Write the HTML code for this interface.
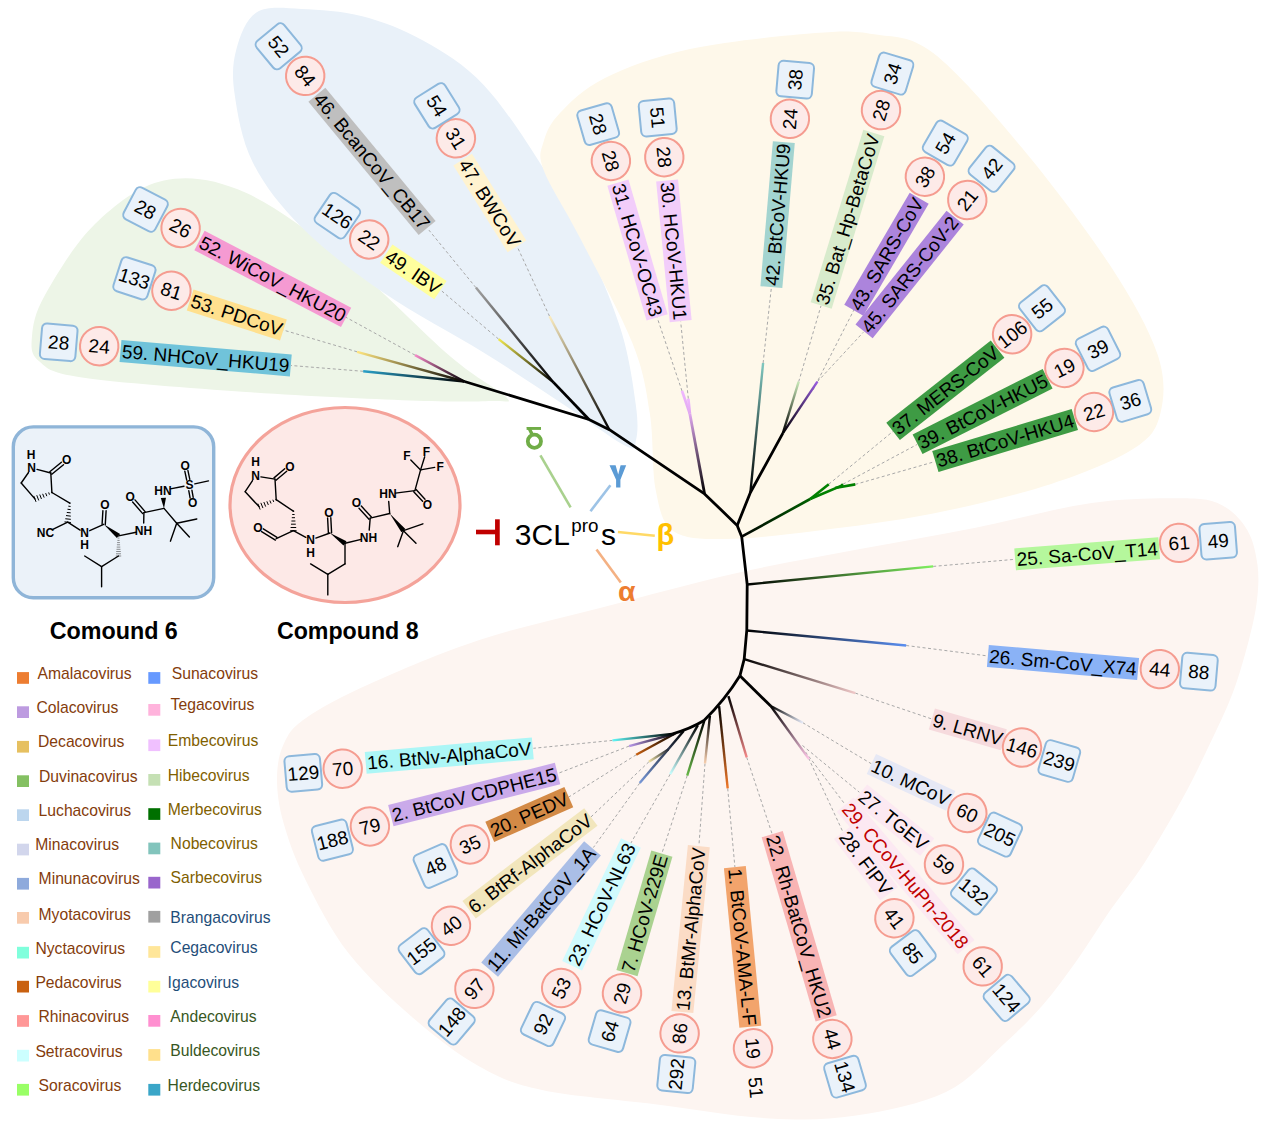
<!DOCTYPE html>
<html><head><meta charset="utf-8"><style>
html,body{margin:0;padding:0;background:#fff;}
svg{display:block;}
text{font-family:"Liberation Sans",sans-serif;}
.n{font-size:19px;}
</style></head><body>
<svg width="1269" height="1134" viewBox="0 0 1269 1134">
<defs><linearGradient id="g1" gradientUnits="userSpaceOnUse" x1="464.5" y1="381.5" x2="363.2" y2="371.3"><stop offset="0.00" stop-color="#000"/><stop offset="1" stop-color="#2aa0c8"/></linearGradient><linearGradient id="g2" gradientUnits="userSpaceOnUse" x1="464.5" y1="381.5" x2="357.1" y2="351.8"><stop offset="0.00" stop-color="#000"/><stop offset="1" stop-color="#ffe680"/></linearGradient><linearGradient id="g3" gradientUnits="userSpaceOnUse" x1="464.5" y1="381.5" x2="415.0" y2="355.1"><stop offset="0.00" stop-color="#000"/><stop offset="1" stop-color="#f58ac8"/></linearGradient><linearGradient id="g4" gradientUnits="userSpaceOnUse" x1="553.5" y1="382.4" x2="498.6" y2="339.1"><stop offset="0.00" stop-color="#000"/><stop offset="1" stop-color="#f0e850"/></linearGradient><linearGradient id="g5" gradientUnits="userSpaceOnUse" x1="553.5" y1="382.4" x2="475.9" y2="287.6"><stop offset="0.00" stop-color="#000"/><stop offset="1" stop-color="#a0a0a0"/></linearGradient><linearGradient id="g6" gradientUnits="userSpaceOnUse" x1="609.4" y1="429.7" x2="549.5" y2="316.2"><stop offset="0.00" stop-color="#000"/><stop offset="1" stop-color="#fbecc0"/></linearGradient><linearGradient id="g7" gradientUnits="userSpaceOnUse" x1="704.6" y1="493.9" x2="689.8" y2="413.5"><stop offset="0.00" stop-color="#000"/><stop offset="1" stop-color="#e0a8f0"/></linearGradient><linearGradient id="g8" gradientUnits="userSpaceOnUse" x1="689.8" y1="413.5" x2="682.0" y2="390.9"><stop offset="0.00" stop-color="#e0a8f0"/><stop offset="1" stop-color="#f0b8ff"/></linearGradient><linearGradient id="g9" gradientUnits="userSpaceOnUse" x1="689.8" y1="413.5" x2="688.3" y2="398.7"><stop offset="0.00" stop-color="#e0a8f0"/><stop offset="1" stop-color="#f0b8ff"/></linearGradient><linearGradient id="g10" gradientUnits="userSpaceOnUse" x1="750.4" y1="492.5" x2="763.1" y2="363.0"><stop offset="0.00" stop-color="#000"/><stop offset="1" stop-color="#80c8c0"/></linearGradient><linearGradient id="g11" gradientUnits="userSpaceOnUse" x1="782.9" y1="433.2" x2="798.7" y2="381.7"><stop offset="0.00" stop-color="#000"/><stop offset="1" stop-color="#c8e8b8"/></linearGradient><linearGradient id="g12" gradientUnits="userSpaceOnUse" x1="782.9" y1="433.2" x2="817.4" y2="381.7"><stop offset="0.00" stop-color="#000"/><stop offset="1" stop-color="#9a5ee0"/></linearGradient><linearGradient id="g13" gradientUnits="userSpaceOnUse" x1="741.7" y1="536.7" x2="810.2" y2="499.0"><stop offset="0.00" stop-color="#000"/><stop offset="1" stop-color="#006000"/></linearGradient><linearGradient id="g14" gradientUnits="userSpaceOnUse" x1="747.2" y1="584.5" x2="933.2" y2="566.4"><stop offset="0.00" stop-color="#000"/><stop offset="1" stop-color="#80f060"/></linearGradient><linearGradient id="g15" gradientUnits="userSpaceOnUse" x1="746.8" y1="630.5" x2="906.2" y2="645.5"><stop offset="0.00" stop-color="#000"/><stop offset="1" stop-color="#5a8ef0"/></linearGradient><linearGradient id="g16" gradientUnits="userSpaceOnUse" x1="744.2" y1="659.1" x2="855.3" y2="693.1"><stop offset="0.00" stop-color="#000"/><stop offset="1" stop-color="#f0c8c8"/></linearGradient><linearGradient id="g17" gradientUnits="userSpaceOnUse" x1="770.7" y1="706.0" x2="802.8" y2="722.7"><stop offset="0.00" stop-color="#000"/><stop offset="1" stop-color="#e8ecfa"/></linearGradient><linearGradient id="g18" gradientUnits="userSpaceOnUse" x1="770.7" y1="706.0" x2="809.0" y2="759.1"><stop offset="0.00" stop-color="#000"/><stop offset="1" stop-color="#ffc8e8"/></linearGradient><linearGradient id="g19" gradientUnits="userSpaceOnUse" x1="728.4" y1="696.2" x2="746.7" y2="757.3"><stop offset="0.00" stop-color="#000"/><stop offset="1" stop-color="#f48888"/></linearGradient><linearGradient id="g20" gradientUnits="userSpaceOnUse" x1="719.1" y1="706.1" x2="727.7" y2="788.4"><stop offset="0.00" stop-color="#000"/><stop offset="1" stop-color="#f07828"/></linearGradient><linearGradient id="g21" gradientUnits="userSpaceOnUse" x1="709.9" y1="716.0" x2="705.0" y2="763.5"><stop offset="0.00" stop-color="#000"/><stop offset="1" stop-color="#f8d0b0"/></linearGradient><linearGradient id="g22" gradientUnits="userSpaceOnUse" x1="704.3" y1="721.0" x2="687.2" y2="775.6"><stop offset="0.00" stop-color="#000"/><stop offset="1" stop-color="#68b848"/></linearGradient><linearGradient id="g23" gradientUnits="userSpaceOnUse" x1="697.9" y1="725.2" x2="670.2" y2="774.2"><stop offset="0.00" stop-color="#000"/><stop offset="1" stop-color="#c8ffff"/></linearGradient><linearGradient id="g24" gradientUnits="userSpaceOnUse" x1="683.7" y1="730.9" x2="639.7" y2="783.1"><stop offset="0.00" stop-color="#000"/><stop offset="1" stop-color="#7898d8"/></linearGradient><linearGradient id="g25" gradientUnits="userSpaceOnUse" x1="668.3" y1="749.5" x2="648.9" y2="761.8"><stop offset="0.00" stop-color="#202838"/><stop offset="1" stop-color="#f0e0a0"/></linearGradient><linearGradient id="g26" gradientUnits="userSpaceOnUse" x1="676.0" y1="733.0" x2="636.2" y2="754.8"><stop offset="0.00" stop-color="#000"/><stop offset="1" stop-color="#c86010"/></linearGradient><linearGradient id="g27" gradientUnits="userSpaceOnUse" x1="674.0" y1="734.0" x2="629.1" y2="746.1"><stop offset="0.00" stop-color="#000"/><stop offset="1" stop-color="#b898e8"/></linearGradient><linearGradient id="g28" gradientUnits="userSpaceOnUse" x1="672.0" y1="734.0" x2="612.5" y2="740.4"><stop offset="0.00" stop-color="#000"/><stop offset="1" stop-color="#60f8f8"/></linearGradient></defs>
<path d="M163.9,180.5 C189.1,175.3 215.2,179.2 245.9,192.8 C276.6,206.5 314.2,235.1 348.3,262.4 C382.4,289.7 424.4,334.3 450.7,356.7 C477.0,379.1 499.2,389.6 506.0,397.0 C512.8,404.4 507.7,400.4 491.7,401.0 C475.7,401.6 450.8,402.0 409.8,400.5 C368.8,399.0 300.5,395.8 245.9,392.0 C191.3,388.2 116.5,382.7 82.0,377.5 C47.5,372.3 47.2,367.9 38.9,361.0 C30.6,354.1 31.0,347.2 32.0,336.2 C33.0,325.2 34.5,313.7 45.0,295.0 C55.5,276.3 75.2,243.1 95.0,224.0 C114.8,204.9 138.8,185.7 163.9,180.5Z" fill="#edf5e7"/>
<path d="M256.8,12.2 C267.6,5.6 283.8,8.2 301.4,8.9 C319.0,9.6 341.9,10.9 362.2,16.2 C382.5,21.5 402.7,29.1 423.0,40.6 C443.3,52.1 463.6,63.6 483.9,85.2 C504.2,106.8 527.1,142.6 544.7,170.3 C562.3,198.0 576.5,224.4 589.3,251.4 C602.1,278.4 613.9,306.8 621.7,332.5 C629.5,358.2 633.5,387.6 635.9,405.5 C638.3,423.4 637.7,433.2 636.0,440.0 C634.3,446.8 637.6,451.8 625.8,446.0 C614.0,440.2 588.6,421.0 565.0,405.5 C541.4,390.0 514.3,371.7 483.9,352.8 C453.5,333.9 412.9,312.9 382.5,292.0 C352.1,271.1 323.0,248.7 301.4,227.1 C279.8,205.5 263.8,184.5 252.7,162.2 C241.5,139.9 237.2,112.2 234.5,93.3 C231.8,74.4 232.8,62.2 236.5,48.7 C240.2,35.2 246.0,18.8 256.8,12.2Z" fill="#e9f1f9"/>
<path d="M543.6,141.7 C546.3,132.2 549.8,123.6 560.0,113.0 C570.2,102.4 583.3,88.7 605.0,78.0 C626.7,67.3 655.0,56.5 690.0,49.0 C725.0,41.5 784.4,35.5 815.1,33.0 C845.8,30.5 854.4,30.9 874.1,34.2 C893.8,37.6 908.6,34.2 933.2,53.1 C957.8,72.0 992.2,112.2 1021.7,147.6 C1051.2,183.0 1087.6,231.2 1110.2,265.6 C1132.8,300.0 1149.0,329.5 1157.4,354.1 C1165.8,378.7 1164.3,397.4 1160.4,413.2 C1156.5,428.9 1152.0,436.8 1133.8,448.6 C1115.6,460.4 1084.6,473.2 1051.2,484.0 C1017.8,494.8 972.6,505.7 933.2,513.5 C893.9,521.3 849.5,526.8 815.1,531.0 C780.7,535.2 750.2,539.0 726.6,539.0 C703.0,539.0 685.3,539.4 673.5,531.2 C661.7,523.0 659.7,509.6 655.7,489.9 C651.8,470.2 653.7,437.8 649.8,413.2 C645.9,388.6 643.9,371.8 632.1,342.3 C620.3,312.8 593.8,264.8 579.0,236.1 C564.2,207.4 549.5,185.7 543.6,170.0 C537.7,154.3 540.9,151.2 543.6,141.7Z" fill="#fef8ea"/>
<path d="M305.3,718.4 C319.8,708.2 341.6,696.6 370.6,683.5 C399.6,670.4 441.2,652.6 479.4,640.0 C517.6,627.4 557.1,619.2 600.0,608.0 C642.9,596.8 693.7,582.8 737.0,573.0 C780.3,563.2 820.2,556.5 860.0,549.0 C899.8,541.5 937.0,535.4 975.6,527.7 C1014.2,520.0 1057.1,507.8 1091.7,502.9 C1126.3,498.0 1161.6,497.9 1183.3,498.3 C1205.0,498.7 1211.3,499.9 1222.0,505.2 C1232.7,510.5 1241.6,520.4 1247.5,530.4 C1253.4,540.4 1255.9,553.4 1257.5,565.0 C1259.1,576.6 1258.4,587.6 1257.0,600.0 C1255.6,612.4 1253.0,624.0 1249.0,639.4 C1245.0,654.8 1239.6,674.7 1233.0,692.3 C1226.4,709.9 1217.6,727.6 1209.2,745.2 C1200.8,762.8 1193.5,778.6 1182.8,798.1 C1172.1,817.6 1157.3,842.9 1145.0,862.0 C1132.7,881.1 1120.0,896.2 1108.7,912.6 C1097.4,929.0 1088.0,944.8 1077.0,960.2 C1066.0,975.6 1054.9,991.1 1042.6,1005.2 C1030.2,1019.3 1019.0,1030.4 1002.9,1044.9 C986.8,1059.4 970.5,1080.2 946.0,1092.0 C921.5,1103.8 885.4,1111.2 856.0,1115.6 C826.6,1120.0 803.3,1120.4 769.8,1118.5 C736.3,1116.6 692.9,1109.0 654.9,1104.2 C616.9,1099.5 571.2,1096.3 542.0,1090.0 C512.8,1083.7 500.7,1078.5 479.4,1066.6 C458.1,1054.7 435.9,1037.6 414.1,1018.8 C392.3,999.9 366.9,976.7 348.8,953.5 C330.7,930.3 316.2,901.2 305.3,879.4 C294.4,857.6 288.2,839.5 283.5,822.8 C278.8,806.1 277.0,792.3 277.0,779.3 C277.0,766.2 278.8,754.6 283.5,744.5 C288.2,734.4 290.8,728.6 305.3,718.4Z" fill="#fdf5f1"/>
<g stroke="#a8a8a8" stroke-width="1" stroke-dasharray="3,2.5" fill="none"><line x1="363.2" y1="371.3" x2="291.0" y2="365.5"/><line x1="357.1" y1="351.8" x2="282.5" y2="329.8"/><line x1="415.0" y1="355.1" x2="344.5" y2="316.5"/><line x1="498.6" y1="339.1" x2="441.9" y2="291.1"/><line x1="475.9" y1="287.6" x2="428.9" y2="230.1"/><line x1="549.5" y1="316.2" x2="517.5" y2="247.3"/><line x1="682.0" y1="390.9" x2="657.2" y2="317.7"/><line x1="688.3" y1="398.7" x2="680.7" y2="321.7"/><line x1="763.1" y1="363.0" x2="771.4" y2="287.3"/><line x1="798.7" y1="381.7" x2="821.0" y2="305.8"/><line x1="813.0" y1="390.0" x2="854.0" y2="309.8"/><line x1="817.4" y1="381.7" x2="863.3" y2="332.3"/><line x1="828.8" y1="484.2" x2="893.1" y2="431.3"/><line x1="843.0" y1="484.2" x2="916.9" y2="444.6"/><line x1="855.3" y1="484.4" x2="934.6" y2="461.7"/><line x1="933.2" y1="566.4" x2="1015.1" y2="559.3"/><line x1="906.2" y1="645.5" x2="987.4" y2="655.9"/><line x1="855.3" y1="693.1" x2="933.4" y2="719.5"/><line x1="802.8" y1="722.7" x2="872.6" y2="764.5"/><line x1="802.5" y1="745.5" x2="859.3" y2="792.2"/><line x1="805.5" y1="752.0" x2="844.8" y2="804.1"/><line x1="808.5" y1="758.0" x2="843.5" y2="833.2"/><line x1="746.7" y1="757.3" x2="772.2" y2="834.2"/><line x1="727.7" y1="788.4" x2="734.9" y2="867.0"/><line x1="705.0" y1="763.5" x2="698.9" y2="845.8"/><line x1="687.2" y1="775.6" x2="661.7" y2="854.0"/><line x1="670.2" y1="774.2" x2="630.3" y2="844.1"/><line x1="639.7" y1="783.1" x2="593.4" y2="847.5"/><line x1="648.9" y1="761.8" x2="590.8" y2="817.1"/><line x1="636.2" y1="754.8" x2="568.3" y2="797.3"/><line x1="629.1" y1="746.1" x2="557.7" y2="773.5"/><line x1="612.5" y1="740.4" x2="533.4" y2="748.3"/></g>
<polyline points="464.5,381.5 589.0,419.5 609.4,429.7 704.6,493.9 737.2,525.4 741.7,536.7 747.2,584.5 746.8,630.0 744.2,659.1 739.9,675.8" fill="none" stroke="#000" stroke-width="2.8" stroke-linejoin="round"/>
<line x1="464.5" y1="381.5" x2="363.2" y2="371.3" stroke="url(#g1)" stroke-width="2.4" stroke-linecap="butt"/>
<line x1="464.5" y1="381.5" x2="357.1" y2="351.8" stroke="url(#g2)" stroke-width="2.4" stroke-linecap="butt"/>
<line x1="464.5" y1="381.5" x2="415.0" y2="355.1" stroke="url(#g3)" stroke-width="2.4" stroke-linecap="butt"/>
<polyline points="589.0,419.5 553.5,382.4" fill="none" stroke="#000" stroke-width="2.8" stroke-linejoin="round"/>
<line x1="553.5" y1="382.4" x2="498.6" y2="339.1" stroke="url(#g4)" stroke-width="2.4" stroke-linecap="butt"/>
<line x1="553.5" y1="382.4" x2="475.9" y2="287.6" stroke="url(#g5)" stroke-width="2.4" stroke-linecap="butt"/>
<line x1="609.4" y1="429.7" x2="549.5" y2="316.2" stroke="url(#g6)" stroke-width="2.4" stroke-linecap="butt"/>
<line x1="704.6" y1="493.9" x2="689.8" y2="413.5" stroke="url(#g7)" stroke-width="2.8" stroke-linecap="butt"/>
<line x1="689.8" y1="413.5" x2="682.0" y2="390.9" stroke="url(#g8)" stroke-width="2.8" stroke-linecap="butt"/>
<line x1="689.8" y1="413.5" x2="688.3" y2="398.7" stroke="url(#g9)" stroke-width="2.8" stroke-linecap="butt"/>
<polyline points="737.2,525.4 750.4,492.5 782.9,433.2" fill="none" stroke="#000" stroke-width="2.8" stroke-linejoin="round"/>
<line x1="750.4" y1="492.5" x2="763.1" y2="363.0" stroke="url(#g10)" stroke-width="2.4" stroke-linecap="butt"/>
<line x1="782.9" y1="433.2" x2="798.7" y2="381.7" stroke="url(#g11)" stroke-width="2.4" stroke-linecap="butt"/>
<line x1="782.9" y1="433.2" x2="817.4" y2="381.7" stroke="url(#g12)" stroke-width="2.4" stroke-linecap="butt"/>
<line x1="741.7" y1="536.7" x2="810.2" y2="499.0" stroke="url(#g13)" stroke-width="2.6" stroke-linecap="butt"/>
<polyline points="810.2,499.0 828.8,484.2" stroke="#008000" stroke-width="2.6" fill="none"/>
<polyline points="810.2,499.0 841.0,486.0 843.0,484.2" stroke="#008000" stroke-width="2.6" fill="none"/>
<polyline points="835.0,488.0 855.3,484.4" stroke="#008000" stroke-width="2.6" fill="none"/>
<line x1="747.2" y1="584.5" x2="933.2" y2="566.4" stroke="url(#g14)" stroke-width="2.4" stroke-linecap="butt"/>
<line x1="746.8" y1="630.5" x2="906.2" y2="645.5" stroke="url(#g15)" stroke-width="2.4" stroke-linecap="butt"/>
<line x1="744.2" y1="659.1" x2="855.3" y2="693.1" stroke="url(#g16)" stroke-width="2.4" stroke-linecap="butt"/>
<polyline points="739.9,675.8 770.7,706.0" fill="none" stroke="#000" stroke-width="2.8" stroke-linejoin="round"/>
<line x1="770.7" y1="706.0" x2="802.8" y2="722.7" stroke="url(#g17)" stroke-width="2.4" stroke-linecap="butt"/>
<line x1="770.7" y1="706.0" x2="809.0" y2="759.1" stroke="url(#g18)" stroke-width="2.4" stroke-linecap="butt"/>
<path d="M739.9,675.8 Q725,700 704,720.5 Q690,729 672,734" fill="none" stroke="#000" stroke-width="2.8"/>
<line x1="728.4" y1="696.2" x2="746.7" y2="757.3" stroke="url(#g19)" stroke-width="2.4" stroke-linecap="butt"/>
<line x1="719.1" y1="706.1" x2="727.7" y2="788.4" stroke="url(#g20)" stroke-width="2.4" stroke-linecap="butt"/>
<line x1="709.9" y1="716.0" x2="705.0" y2="763.5" stroke="url(#g21)" stroke-width="2.4" stroke-linecap="butt"/>
<line x1="704.3" y1="721.0" x2="687.2" y2="775.6" stroke="url(#g22)" stroke-width="2.4" stroke-linecap="butt"/>
<line x1="697.9" y1="725.2" x2="670.2" y2="774.2" stroke="url(#g23)" stroke-width="2.4" stroke-linecap="butt"/>
<line x1="683.7" y1="730.9" x2="639.7" y2="783.1" stroke="url(#g24)" stroke-width="2.4" stroke-linecap="butt"/>
<line x1="668.3" y1="749.5" x2="648.9" y2="761.8" stroke="url(#g25)" stroke-width="2.4" stroke-linecap="butt"/>
<line x1="676.0" y1="733.0" x2="636.2" y2="754.8" stroke="url(#g26)" stroke-width="2.4" stroke-linecap="butt"/>
<line x1="674.0" y1="734.0" x2="629.1" y2="746.1" stroke="url(#g27)" stroke-width="2.4" stroke-linecap="butt"/>
<line x1="672.0" y1="734.0" x2="612.5" y2="740.4" stroke="url(#g28)" stroke-width="2.4" stroke-linecap="butt"/>
<g font-family="Liberation Sans, sans-serif" font-size="19" text-anchor="middle"><g transform="translate(205.7,358.2) rotate(4.86)"><rect x="-85.5" y="-11" width="170.9" height="22" fill="#70c3da"/><text x="0" y="6.8" fill="#000">59. NHCoV_HKU19</text></g><g transform="translate(99.2,346.2) rotate(4.86)"><circle r="19.2" fill="#fdeae8" stroke="#f59c90" stroke-width="2"/><text class="n" x="0" y="6.8">24</text></g><g transform="translate(58.7,342.3) rotate(4.86)"><rect x="-17.8" y="-17.8" width="35.6" height="35.6" rx="5" fill="#eaf2fa" stroke="#8db8dc" stroke-width="2"/><text class="n" x="0" y="6.8">28</text></g><g transform="translate(236.8,315.0) rotate(17.93)"><rect x="-49.0" y="-11" width="98.0" height="22" fill="#ffe08e"/><text x="0" y="6.8" fill="#000">53. PDCoV</text></g><g transform="translate(171.4,290.7) rotate(17.93)"><circle r="19.2" fill="#fdeae8" stroke="#f59c90" stroke-width="2"/><text class="n" x="0" y="6.8">81</text></g><g transform="translate(134.4,278.3) rotate(17.93)"><rect x="-17.8" y="-17.8" width="35.6" height="35.6" rx="5" fill="#eaf2fa" stroke="#8db8dc" stroke-width="2"/><text class="n" x="0" y="6.8">133</text></g><g transform="translate(272.8,278.9) rotate(27.69)"><rect x="-82.8" y="-11" width="165.6" height="22" fill="#f59ad2"/><text x="0" y="6.8" fill="#000">52. WiCoV_HKU20</text></g><g transform="translate(180.6,228.0) rotate(27.69)"><circle r="19.2" fill="#fdeae8" stroke="#f59c90" stroke-width="2"/><text class="n" x="0" y="6.8">26</text></g><g transform="translate(145.5,209.5) rotate(27.69)"><rect x="-17.8" y="-17.8" width="35.6" height="35.6" rx="5" fill="#eaf2fa" stroke="#8db8dc" stroke-width="2"/><text class="n" x="0" y="6.8">28</text></g><g transform="translate(413.4,271.9) rotate(34.01)"><rect x="-32.7" y="-11" width="65.3" height="22" fill="#ffff9e"/><text x="0" y="6.8" fill="#000">49. IBV</text></g><g transform="translate(369.2,239.5) rotate(34.01)"><circle r="19.2" fill="#fdeae8" stroke="#f59c90" stroke-width="2"/><text class="n" x="0" y="6.8">22</text></g><g transform="translate(337.4,215.7) rotate(34.01)"><rect x="-17.8" y="-17.8" width="35.6" height="35.6" rx="5" fill="#eaf2fa" stroke="#8db8dc" stroke-width="2"/><text class="n" x="0" y="6.8">126</text></g><g transform="translate(372.0,161.3) rotate(50.41)"><rect x="-86.5" y="-11" width="173.0" height="22" fill="#bfbfbf"/><text x="0" y="6.8" fill="#000">46. BcanCoV_CB17</text></g><g transform="translate(305.2,75.9) rotate(50.41)"><circle r="19.2" fill="#fdeae8" stroke="#f59c90" stroke-width="2"/><text class="n" x="0" y="6.8">84</text></g><g transform="translate(278.7,46.3) rotate(50.41)"><rect x="-17.8" y="-17.8" width="35.6" height="35.6" rx="5" fill="#eaf2fa" stroke="#8db8dc" stroke-width="2"/><text class="n" x="0" y="6.8">52</text></g><g transform="translate(489.8,203.0) rotate(57.94)"><rect x="-51.1" y="-11" width="102.3" height="22" fill="#fff3d0"/><text x="0" y="6.8" fill="#000">47. BWCoV</text></g><g transform="translate(455.9,138.3) rotate(57.94)"><circle r="19.2" fill="#fdeae8" stroke="#f59c90" stroke-width="2"/><text class="n" x="0" y="6.8">31</text></g><g transform="translate(436.9,105.8) rotate(57.94)"><rect x="-17.8" y="-17.8" width="35.6" height="35.6" rx="5" fill="#eaf2fa" stroke="#8db8dc" stroke-width="2"/><text class="n" x="0" y="6.8">54</text></g><g transform="translate(637.5,250.0) rotate(73.78)"><rect x="-70.1" y="-11" width="140.3" height="22" fill="#f2cdfa"/><text x="0" y="6.8" fill="#000">31. HCoV-OC43</text></g><g transform="translate(610.9,160.9) rotate(73.78)"><circle r="19.2" fill="#fdeae8" stroke="#f59c90" stroke-width="2"/><text class="n" x="0" y="6.8">28</text></g><g transform="translate(598.2,124.1) rotate(73.78)"><rect x="-17.8" y="-17.8" width="35.6" height="35.6" rx="5" fill="#eaf2fa" stroke="#8db8dc" stroke-width="2"/><text class="n" x="0" y="6.8">28</text></g><g transform="translate(673.9,250.9) rotate(84.47)"><rect x="-70.7" y="-11" width="141.3" height="22" fill="#f2cdfa"/><text x="0" y="6.8" fill="#000">30. HCoV-HKU1</text></g><g transform="translate(664.3,157.2) rotate(84.47)"><circle r="19.2" fill="#fdeae8" stroke="#f59c90" stroke-width="2"/><text class="n" x="0" y="6.8">28</text></g><g transform="translate(657.7,117.5) rotate(84.47)"><rect x="-17.8" y="-17.8" width="35.6" height="35.6" rx="5" fill="#eaf2fa" stroke="#8db8dc" stroke-width="2"/><text class="n" x="0" y="6.8">51</text></g><g transform="translate(777.6,214.6) rotate(-85.09)"><rect x="-72.8" y="-11" width="145.6" height="22" fill="#a3d4d0"/><text x="0" y="6.8" fill="#000">42. BtCoV-HKU9</text></g><g transform="translate(789.9,118.8) rotate(-85.09)"><circle r="19.2" fill="#fdeae8" stroke="#f59c90" stroke-width="2"/><text class="n" x="0" y="6.8">24</text></g><g transform="translate(795.2,79.7) rotate(-85.09)"><rect x="-17.8" y="-17.8" width="35.6" height="35.6" rx="5" fill="#eaf2fa" stroke="#8db8dc" stroke-width="2"/><text class="n" x="0" y="6.8">38</text></g><g transform="translate(847.5,219.2) rotate(-73.02)"><rect x="-90.2" y="-11" width="180.4" height="22" fill="#d8ebcc"/><text x="0" y="6.8" fill="#000">35. Bat_Hp-BetaCoV</text></g><g transform="translate(881.0,110.1) rotate(-73.02)"><circle r="19.2" fill="#fdeae8" stroke="#f59c90" stroke-width="2"/><text class="n" x="0" y="6.8">28</text></g><g transform="translate(892.4,73.6) rotate(-73.02)"><rect x="-17.8" y="-17.8" width="35.6" height="35.6" rx="5" fill="#eaf2fa" stroke="#8db8dc" stroke-width="2"/><text class="n" x="0" y="6.8">34</text></g><g transform="translate(886.5,254.2) rotate(-59.71)"><rect x="-64.9" y="-11" width="129.7" height="22" fill="#ac84dc"/><text x="0" y="6.8" fill="#000">43. SARS-CoV</text></g><g transform="translate(924.9,176.7) rotate(-59.71)"><circle r="19.2" fill="#fdeae8" stroke="#f59c90" stroke-width="2"/><text class="n" x="0" y="6.8">38</text></g><g transform="translate(945.3,143.1) rotate(-59.71)"><rect x="-17.8" y="-17.8" width="35.6" height="35.6" rx="5" fill="#eaf2fa" stroke="#8db8dc" stroke-width="2"/><text class="n" x="0" y="6.8">54</text></g><g transform="translate(909.6,274.5) rotate(-51.30)"><rect x="-72.8" y="-11" width="145.6" height="22" fill="#ac84dc"/><text x="0" y="6.8" fill="#000">45. SARS-CoV-2</text></g><g transform="translate(967.3,200.0) rotate(-51.30)"><circle r="19.2" fill="#fdeae8" stroke="#f59c90" stroke-width="2"/><text class="n" x="0" y="6.8">21</text></g><g transform="translate(991.6,168.8) rotate(-51.30)"><rect x="-17.8" y="-17.8" width="35.6" height="35.6" rx="5" fill="#eaf2fa" stroke="#8db8dc" stroke-width="2"/><text class="n" x="0" y="6.8">42</text></g><g transform="translate(945.3,390.3) rotate(-38.15)"><rect x="-66.4" y="-11" width="132.9" height="22" fill="#3e9b44"/><text x="0" y="6.8" fill="#000">37. MERS-CoV</text></g><g transform="translate(1012.1,334.3) rotate(-38.15)"><circle r="19.2" fill="#fdeae8" stroke="#f59c90" stroke-width="2"/><text class="n" x="0" y="6.8">106</text></g><g transform="translate(1042.0,308.3) rotate(-38.15)"><rect x="-17.8" y="-17.8" width="35.6" height="35.6" rx="5" fill="#eaf2fa" stroke="#8db8dc" stroke-width="2"/><text class="n" x="0" y="6.8">55</text></g><g transform="translate(982.6,411.5) rotate(-26.74)"><rect x="-72.8" y="-11" width="145.6" height="22" fill="#3e9b44"/><text x="0" y="6.8" fill="#000">39. BtCoV-HKU5</text></g><g transform="translate(1064.4,367.9) rotate(-26.74)"><circle r="19.2" fill="#fdeae8" stroke="#f59c90" stroke-width="2"/><text class="n" x="0" y="6.8">19</text></g><g transform="translate(1098.0,348.8) rotate(-26.74)"><rect x="-17.8" y="-17.8" width="35.6" height="35.6" rx="5" fill="#eaf2fa" stroke="#8db8dc" stroke-width="2"/><text class="n" x="0" y="6.8">39</text></g><g transform="translate(1005.1,440.5) rotate(-16.70)"><rect x="-72.8" y="-11" width="145.6" height="22" fill="#3e9b44"/><text x="0" y="6.8" fill="#000">38. BtCoV-HKU4</text></g><g transform="translate(1094.0,412.0) rotate(-16.70)"><circle r="19.2" fill="#fdeae8" stroke="#f59c90" stroke-width="2"/><text class="n" x="0" y="6.8">22</text></g><g transform="translate(1130.3,400.9) rotate(-16.70)"><rect x="-17.8" y="-17.8" width="35.6" height="35.6" rx="5" fill="#eaf2fa" stroke="#8db8dc" stroke-width="2"/><text class="n" x="0" y="6.8">36</text></g><g transform="translate(1087.2,553.8) rotate(-4.40)"><rect x="-72.3" y="-11" width="144.5" height="22" fill="#b5f79c"/><text x="0" y="6.8" fill="#000">25. Sa-CoV_T14</text></g><g transform="translate(1179.1,542.9) rotate(-4.40)"><circle r="19.2" fill="#fdeae8" stroke="#f59c90" stroke-width="2"/><text class="n" x="0" y="6.8">61</text></g><g transform="translate(1218.2,540.8) rotate(-4.40)"><rect x="-17.8" y="-17.8" width="35.6" height="35.6" rx="5" fill="#eaf2fa" stroke="#8db8dc" stroke-width="2"/><text class="n" x="0" y="6.8">49</text></g><g transform="translate(1063.0,662.5) rotate(4.99)"><rect x="-75.4" y="-11" width="150.8" height="22" fill="#8ab2f6"/><text x="0" y="6.8" fill="#000">26. Sm-CoV_X74</text></g><g transform="translate(1159.8,669.1) rotate(4.99)"><circle r="19.2" fill="#fdeae8" stroke="#f59c90" stroke-width="2"/><text class="n" x="0" y="6.8">44</text></g><g transform="translate(1198.9,671.7) rotate(4.99)"><rect x="-17.8" y="-17.8" width="35.6" height="35.6" rx="5" fill="#eaf2fa" stroke="#8db8dc" stroke-width="2"/><text class="n" x="0" y="6.8">88</text></g><g transform="translate(967.8,729.4) rotate(16.06)"><rect x="-37.4" y="-11" width="74.8" height="22" fill="#f6dadd"/><text x="0" y="6.8" fill="#000">9. LRNV</text></g><g transform="translate(1022.0,747.5) rotate(16.06)"><circle r="19.2" fill="#fdeae8" stroke="#f59c90" stroke-width="2"/><text class="n" x="0" y="6.8">146</text></g><g transform="translate(1059.3,761.0) rotate(16.06)"><rect x="-17.8" y="-17.8" width="35.6" height="35.6" rx="5" fill="#eaf2fa" stroke="#8db8dc" stroke-width="2"/><text class="n" x="0" y="6.8">239</text></g><g transform="translate(911.0,782.4) rotate(24.96)"><rect x="-43.7" y="-11" width="87.5" height="22" fill="#e6e8f5"/><text x="0" y="6.8" fill="#000">10. MCoV</text></g><g transform="translate(967.3,812.9) rotate(24.96)"><circle r="19.2" fill="#fdeae8" stroke="#f59c90" stroke-width="2"/><text class="n" x="0" y="6.8">60</text></g><g transform="translate(1000.0,834.6) rotate(24.96)"><rect x="-17.8" y="-17.8" width="35.6" height="35.6" rx="5" fill="#eaf2fa" stroke="#8db8dc" stroke-width="2"/><text class="n" x="0" y="6.8">205</text></g><g transform="translate(893.7,820.0) rotate(38.94)"><rect x="-43.0" y="-11" width="86.1" height="22" fill="#fce9f2"/><text x="0" y="6.8" fill="#000">27. TGEV</text></g><g transform="translate(944.0,864.5) rotate(38.94)"><circle r="19.2" fill="#fdeae8" stroke="#f59c90" stroke-width="2"/><text class="n" x="0" y="6.8">59</text></g><g transform="translate(974.0,891.5) rotate(38.94)"><rect x="-17.8" y="-17.8" width="35.6" height="35.6" rx="5" fill="#eaf2fa" stroke="#8db8dc" stroke-width="2"/><text class="n" x="0" y="6.8">132</text></g><g transform="translate(905.6,875.8) rotate(49.70)"><rect x="-93.4" y="-11" width="186.8" height="22" fill="#fce9f2"/><text x="0" y="6.8" fill="#c00000">29. CCoV-HuPn-2018</text></g><g transform="translate(982.7,966.4) rotate(49.70)"><circle r="19.2" fill="#fdeae8" stroke="#f59c90" stroke-width="2"/><text class="n" x="0" y="6.8">61</text></g><g transform="translate(1006.7,997.9) rotate(49.70)"><rect x="-17.8" y="-17.8" width="35.6" height="35.6" rx="5" fill="#eaf2fa" stroke="#8db8dc" stroke-width="2"/><text class="n" x="0" y="6.8">124</text></g><g transform="translate(866.0,863.0) rotate(52.96)"><rect x="-38.5" y="-11" width="76.9" height="22" fill="#fce9f2"/><text x="0" y="6.8" fill="#000">28. FIPV</text></g><g transform="translate(894.4,918.2) rotate(52.96)"><circle r="19.2" fill="#fdeae8" stroke="#f59c90" stroke-width="2"/><text class="n" x="0" y="6.8">41</text></g><g transform="translate(912.8,953.1) rotate(52.96)"><rect x="-17.8" y="-17.8" width="35.6" height="35.6" rx="5" fill="#eaf2fa" stroke="#8db8dc" stroke-width="2"/><text class="n" x="0" y="6.8">85</text></g><g transform="translate(799.2,926.3) rotate(73.69)"><rect x="-96.0" y="-11" width="192.0" height="22" fill="#f8b4b4"/><text x="0" y="6.8" fill="#000">22. Rh-BatCoV_HKU2</text></g><g transform="translate(832.4,1038.9) rotate(73.69)"><circle r="19.2" fill="#fdeae8" stroke="#f59c90" stroke-width="2"/><text class="n" x="0" y="6.8">44</text></g><g transform="translate(845.0,1076.7) rotate(73.69)"><rect x="-17.8" y="-17.8" width="35.6" height="35.6" rx="5" fill="#eaf2fa" stroke="#8db8dc" stroke-width="2"/><text class="n" x="0" y="6.8">134</text></g><g transform="translate(742.6,947.0) rotate(84.46)"><rect x="-80.2" y="-11" width="160.3" height="22" fill="#f2a46c"/><text x="0" y="6.8" fill="#000">1. BtCoV-AMA-L-F</text></g><g transform="translate(753.0,1048.3) rotate(84.46)"><circle r="19.2" fill="#fdeae8" stroke="#f59c90" stroke-width="2"/><text class="n" x="0" y="6.8">19</text></g><g transform="translate(756.1,1087.7) rotate(84.46)"><text class="n" x="0" y="6.8">51</text></g><g transform="translate(690.6,929.1) rotate(-84.34)"><rect x="-83.3" y="-11" width="166.7" height="22" fill="#fbdcc6"/><text x="0" y="6.8" fill="#000">13. BtMr-AlphaCoV</text></g><g transform="translate(679.6,1033.4) rotate(-84.34)"><circle r="19.2" fill="#fdeae8" stroke="#f59c90" stroke-width="2"/><text class="n" x="0" y="6.8">86</text></g><g transform="translate(676.3,1074.0) rotate(-84.34)"><rect x="-17.8" y="-17.8" width="35.6" height="35.6" rx="5" fill="#eaf2fa" stroke="#8db8dc" stroke-width="2"/><text class="n" x="0" y="6.8">292</text></g><g transform="translate(644.4,913.4) rotate(-73.72)"><rect x="-62.2" y="-11" width="124.5" height="22" fill="#aad290"/><text x="0" y="6.8" fill="#000">7. HCoV-229E</text></g><g transform="translate(622.0,993.3) rotate(-73.72)"><circle r="19.2" fill="#fdeae8" stroke="#f59c90" stroke-width="2"/><text class="n" x="0" y="6.8">29</text></g><g transform="translate(609.6,1031.1) rotate(-73.72)"><rect x="-17.8" y="-17.8" width="35.6" height="35.6" rx="5" fill="#eaf2fa" stroke="#8db8dc" stroke-width="2"/><text class="n" x="0" y="6.8">64</text></g><g transform="translate(601.5,904.4) rotate(-64.41)"><rect x="-68.0" y="-11" width="136.1" height="22" fill="#d0fafd"/><text x="0" y="6.8" fill="#000">23. HCoV-NL63</text></g><g transform="translate(561.2,988.0) rotate(-64.41)"><circle r="19.2" fill="#fdeae8" stroke="#f59c90" stroke-width="2"/><text class="n" x="0" y="6.8">53</text></g><g transform="translate(543.0,1024.0) rotate(-64.41)"><rect x="-17.8" y="-17.8" width="35.6" height="35.6" rx="5" fill="#eaf2fa" stroke="#8db8dc" stroke-width="2"/><text class="n" x="0" y="6.8">92</text></g><g transform="translate(541.1,909.0) rotate(-49.65)"><rect x="-79.5" y="-11" width="158.9" height="22" fill="#aabee6"/><text x="0" y="6.8" fill="#000">11. Mi-BatCoV_1A</text></g><g transform="translate(474.4,988.9) rotate(-49.65)"><circle r="19.2" fill="#fdeae8" stroke="#f59c90" stroke-width="2"/><text class="n" x="0" y="6.8">97</text></g><g transform="translate(451.7,1021.5) rotate(-49.65)"><rect x="-17.8" y="-17.8" width="35.6" height="35.6" rx="5" fill="#eaf2fa" stroke="#8db8dc" stroke-width="2"/><text class="n" x="0" y="6.8">148</text></g><g transform="translate(530.0,863.4) rotate(-37.27)"><rect x="-76.5" y="-11" width="153.0" height="22" fill="#f2e6bc"/><text x="0" y="6.8" fill="#000">6. BtRf-AlphaCoV</text></g><g transform="translate(451.0,925.8) rotate(-37.27)"><circle r="19.2" fill="#fdeae8" stroke="#f59c90" stroke-width="2"/><text class="n" x="0" y="6.8">40</text></g><g transform="translate(421.5,951.2) rotate(-37.27)"><rect x="-17.8" y="-17.8" width="35.6" height="35.6" rx="5" fill="#eaf2fa" stroke="#8db8dc" stroke-width="2"/><text class="n" x="0" y="6.8">155</text></g><g transform="translate(529.3,814.5) rotate(-23.80)"><rect x="-43.2" y="-11" width="86.4" height="22" fill="#d38a46"/><text x="0" y="6.8" fill="#000">20. PEDV</text></g><g transform="translate(469.9,844.4) rotate(-23.80)"><circle r="19.2" fill="#fdeae8" stroke="#f59c90" stroke-width="2"/><text class="n" x="0" y="6.8">35</text></g><g transform="translate(435.5,866.0) rotate(-23.80)"><rect x="-17.8" y="-17.8" width="35.6" height="35.6" rx="5" fill="#eaf2fa" stroke="#8db8dc" stroke-width="2"/><text class="n" x="0" y="6.8">48</text></g><g transform="translate(474.2,794.6) rotate(-14.21)"><rect x="-86.0" y="-11" width="172.0" height="22" fill="#caaaea"/><text x="0" y="6.8" fill="#000">2. BtCoV CDPHE15</text></g><g transform="translate(369.9,826.4) rotate(-14.21)"><circle r="19.2" fill="#fdeae8" stroke="#f59c90" stroke-width="2"/><text class="n" x="0" y="6.8">79</text></g><g transform="translate(332.4,840.1) rotate(-14.21)"><rect x="-17.8" y="-17.8" width="35.6" height="35.6" rx="5" fill="#eaf2fa" stroke="#8db8dc" stroke-width="2"/><text class="n" x="0" y="6.8">188</text></g><g transform="translate(449.3,755.6) rotate(-4.96)"><rect x="-83.9" y="-11" width="167.7" height="22" fill="#acf6f6"/><text x="0" y="6.8" fill="#000">16. BtNv-AlphaCoV</text></g><g transform="translate(342.7,768.7) rotate(-4.96)"><circle r="19.2" fill="#fdeae8" stroke="#f59c90" stroke-width="2"/><text class="n" x="0" y="6.8">70</text></g><g transform="translate(303.3,772.9) rotate(-4.96)"><rect x="-17.8" y="-17.8" width="35.6" height="35.6" rx="5" fill="#eaf2fa" stroke="#8db8dc" stroke-width="2"/><text class="n" x="0" y="6.8">129</text></g></g>
<g font-family="Liberation Sans, sans-serif" font-size="15.7"><rect x="17" y="672.1" width="12" height="11.7" fill="#ed7d31"/><text x="37.5" y="678.7" fill="#843c0c">Amalacovirus</text><rect x="17" y="706.3" width="12" height="11.7" fill="#bd9be0"/><text x="36.4" y="712.9" fill="#843c0c">Colacovirus</text><rect x="17" y="740.9" width="12" height="11.7" fill="#e6c060"/><text x="38.0" y="747.1" fill="#843c0c">Decacovirus</text><rect x="17" y="775.3" width="12" height="11.7" fill="#84c062"/><text x="39.0" y="781.7" fill="#843c0c">Duvinacovirus</text><rect x="17" y="809.3" width="12" height="11.7" fill="#bcd6ee"/><text x="38.6" y="815.9" fill="#843c0c">Luchacovirus</text><rect x="17" y="843.7" width="12" height="11.7" fill="#d2d6ec"/><text x="35.3" y="850.3" fill="#843c0c">Minacovirus</text><rect x="17" y="877.9" width="12" height="11.7" fill="#8eaadc"/><text x="38.6" y="884.1" fill="#843c0c">Minunacovirus</text><rect x="17" y="912.0" width="12" height="11.7" fill="#f8cbad"/><text x="38.5" y="919.6" fill="#843c0c">Myotacovirus</text><rect x="17" y="946.8" width="12" height="11.7" fill="#80ffdc"/><text x="35.4" y="954.0" fill="#843c0c">Nyctacovirus</text><rect x="17" y="980.8" width="12" height="11.7" fill="#c96110"/><text x="35.4" y="988.2" fill="#843c0c">Pedacovirus</text><rect x="17" y="1015.1" width="12" height="11.7" fill="#ff9797"/><text x="38.5" y="1022.3" fill="#843c0c">Rhinacovirus</text><rect x="17" y="1049.8" width="12" height="11.7" fill="#ccffff"/><text x="35.4" y="1057.0" fill="#843c0c">Setracovirus</text><rect x="17" y="1083.9" width="12" height="11.7" fill="#99ff66"/><text x="38.5" y="1090.6" fill="#843c0c">Soracovirus</text><rect x="148.3" y="672.1" width="12" height="11.7" fill="#6699ff"/><text x="171.7" y="678.7" fill="#843c0c">Sunacovirus</text><rect x="148.3" y="704.0" width="12" height="11.7" fill="#ffb3dc"/><text x="170.6" y="710.4" fill="#843c0c">Tegacovirus</text><rect x="148.3" y="739.4" width="12" height="11.7" fill="#f0c0ff"/><text x="167.7" y="746.0" fill="#7f6000">Embecovirus</text><rect x="148.3" y="774.0" width="12" height="11.7" fill="#c5e0b4"/><text x="167.7" y="780.6" fill="#7f6000">Hibecovirus</text><rect x="148.3" y="808.2" width="12" height="11.7" fill="#007000"/><text x="167.7" y="814.8" fill="#7f6000">Merbecovirus</text><rect x="148.3" y="842.6" width="12" height="11.7" fill="#82c4bc"/><text x="170.6" y="849.2" fill="#7f6000">Nobecovirus</text><rect x="148.3" y="876.8" width="12" height="11.7" fill="#9966cc"/><text x="170.6" y="883.4" fill="#7f6000">Sarbecovirus</text><rect x="148.3" y="910.9" width="12" height="11.7" fill="#a0a0a0"/><text x="170.3" y="922.6" fill="#1f4e79">Brangacovirus</text><rect x="148.3" y="946.1" width="12" height="11.7" fill="#ffe699"/><text x="170.3" y="952.8" fill="#1f4e79">Cegacovirus</text><rect x="148.3" y="980.8" width="12" height="11.7" fill="#ffff99"/><text x="167.6" y="987.5" fill="#1f4e79">Igacovirus</text><rect x="148.3" y="1015.0" width="12" height="11.7" fill="#ff8fd0"/><text x="170.3" y="1021.7" fill="#385723">Andecovirus</text><rect x="148.3" y="1049.1" width="12" height="11.7" fill="#ffe08c"/><text x="170.3" y="1055.8" fill="#385723">Buldecovirus</text><rect x="148.3" y="1083.9" width="12" height="11.7" fill="#3aa6c8"/><text x="167.6" y="1090.6" fill="#385723">Herdecovirus</text></g>
<rect x="13.3" y="426.9" width="200.4" height="170.8" rx="20" fill="#ebf2f9" stroke="#8fb5d8" stroke-width="3.4"/>
<ellipse cx="345" cy="505" rx="115" ry="97.5" fill="#fde9e7" stroke="#f4a39a" stroke-width="3.2"/>
<g stroke="#000" stroke-width="1.4" font-size="12" font-family="Liberation Sans, sans-serif" stroke-linecap="round"><line x1="37.0" y1="469.4" x2="50.8" y2="473.0"/><line x1="51.8" y1="474.2" x2="63.5" y2="464.7"/><line x1="49.8" y1="471.8" x2="61.4" y2="462.2"/><line x1="50.8" y1="473.0" x2="51.9" y2="492.5"/><line x1="51.8" y1="492.1" x2="52.0" y2="492.9" stroke-width="1"/><line x1="48.8" y1="492.8" x2="49.3" y2="494.3" stroke-width="1"/><line x1="45.8" y1="493.5" x2="46.7" y2="495.8" stroke-width="1"/><line x1="42.8" y1="494.2" x2="44.0" y2="497.2" stroke-width="1"/><line x1="39.9" y1="494.9" x2="41.3" y2="498.6" stroke-width="1"/><line x1="36.9" y1="495.6" x2="38.6" y2="500.1" stroke-width="1"/><line x1="33.9" y1="496.3" x2="35.9" y2="501.5" stroke-width="1"/><line x1="34.9" y1="498.9" x2="21.2" y2="483.0"/><line x1="21.2" y1="483.0" x2="28.5" y2="472.5"/><line x1="51.9" y1="492.5" x2="69.8" y2="503.1"/><line x1="69.4" y1="503.1" x2="70.2" y2="503.1" stroke-width="1"/><line x1="68.7" y1="506.2" x2="70.2" y2="506.4" stroke-width="1"/><line x1="67.9" y1="509.3" x2="70.3" y2="509.6" stroke-width="1"/><line x1="67.2" y1="512.5" x2="70.3" y2="512.8" stroke-width="1"/><line x1="66.4" y1="515.6" x2="70.4" y2="516.1" stroke-width="1"/><line x1="65.7" y1="518.8" x2="70.4" y2="519.3" stroke-width="1"/><line x1="64.9" y1="521.9" x2="70.5" y2="522.5" stroke-width="1"/><line x1="67.7" y1="522.2" x2="52.3" y2="529.6"/><line x1="67.7" y1="522.2" x2="80.1" y2="530.1"/><line x1="89.7" y1="530.7" x2="103.7" y2="524.3"/><line x1="105.3" y1="524.4" x2="106.1" y2="510.8"/><line x1="102.1" y1="524.2" x2="102.9" y2="510.6"/><polygon points="103.7,524.3 116.9,537.9 120.1,533.9" fill="#000" stroke="none"/><line x1="118.5" y1="535.9" x2="136.2" y2="532.2"/><line x1="143.7" y1="523.1" x2="143.9" y2="512.6"/><line x1="145.1" y1="511.6" x2="135.0" y2="499.9"/><line x1="142.7" y1="513.6" x2="132.6" y2="502.0"/><line x1="143.9" y1="512.6" x2="164.0" y2="508.4"/><polygon points="164.0,508.4 166.0,497.7 160.8,498.0" fill="#000" stroke="none"/><line x1="170.4" y1="488.9" x2="184.0" y2="486.2"/><line x1="189.8" y1="479.4" x2="187.9" y2="470.4"/><line x1="186.7" y1="480.1" x2="184.8" y2="471.1"/><line x1="188.8" y1="490.8" x2="190.1" y2="498.0"/><line x1="191.9" y1="490.2" x2="193.2" y2="497.4"/><line x1="194.8" y1="483.9" x2="208.5" y2="480.9"/><line x1="164.0" y1="508.4" x2="176.7" y2="523.2"/><line x1="176.7" y1="523.2" x2="196.8" y2="519.0"/><line x1="176.7" y1="523.2" x2="189.4" y2="537.0"/><line x1="176.7" y1="523.2" x2="170.4" y2="541.2"/><line x1="118.2" y1="535.9" x2="118.8" y2="535.9" stroke-width="0.6" stroke="#444"/><line x1="118.0" y1="538.1" x2="119.0" y2="538.1" stroke-width="0.6" stroke="#444"/><line x1="117.8" y1="540.4" x2="119.2" y2="540.4" stroke-width="0.6" stroke="#444"/><line x1="117.5" y1="542.6" x2="119.5" y2="542.6" stroke-width="0.6" stroke="#444"/><line x1="117.3" y1="544.8" x2="119.7" y2="544.8" stroke-width="0.6" stroke="#444"/><line x1="117.1" y1="547.1" x2="119.9" y2="547.1" stroke-width="0.6" stroke="#444"/><line x1="116.9" y1="549.3" x2="120.1" y2="549.3" stroke-width="0.6" stroke="#444"/><line x1="116.6" y1="551.5" x2="120.4" y2="551.5" stroke-width="0.6" stroke="#444"/><line x1="116.4" y1="553.8" x2="120.6" y2="553.8" stroke-width="0.6" stroke="#444"/><line x1="116.2" y1="556.0" x2="120.8" y2="556.0" stroke-width="0.6" stroke="#444"/><line x1="118.5" y1="556.0" x2="101.6" y2="566.6"/><line x1="101.6" y1="566.6" x2="84.7" y2="556.0"/><line x1="101.6" y1="566.6" x2="101.6" y2="586.7"/><text x="31.7" y="472.2" text-anchor="middle" stroke="none" fill="#000" font-weight="bold">N</text><text x="31.0" y="459.2" text-anchor="middle" stroke="none" fill="#000" font-weight="bold">H</text><text x="66.7" y="464.2" text-anchor="middle" stroke="none" fill="#000" font-weight="bold">O</text><text x="45.5" y="537.0" text-anchor="middle" stroke="none" fill="#000" font-weight="bold">NC</text><text x="84.7" y="537.2" text-anchor="middle" stroke="none" fill="#000" font-weight="bold">N</text><text x="84.7" y="549.2" text-anchor="middle" stroke="none" fill="#000" font-weight="bold">H</text><text x="104.8" y="509.4" text-anchor="middle" stroke="none" fill="#000" font-weight="bold">O</text><text x="143.5" y="534.8" text-anchor="middle" stroke="none" fill="#000" font-weight="bold">NH</text><text x="130.2" y="501.0" text-anchor="middle" stroke="none" fill="#000" font-weight="bold">O</text><text x="163.0" y="494.6" text-anchor="middle" stroke="none" fill="#000" font-weight="bold">HN</text><text x="189.4" y="489.3" text-anchor="middle" stroke="none" fill="#000" font-weight="bold">S</text><text x="185.2" y="469.6" text-anchor="middle" stroke="none" fill="#000" font-weight="bold">O</text><text x="192.6" y="507.3" text-anchor="middle" stroke="none" fill="#000" font-weight="bold">O</text></g>
<g stroke="#000" stroke-width="1.4" font-size="12" font-family="Liberation Sans, sans-serif" stroke-linecap="round"><line x1="260.9" y1="476.9" x2="275.0" y2="479.1"/><line x1="276.0" y1="480.3" x2="286.7" y2="471.3"/><line x1="274.0" y1="477.9" x2="284.7" y2="468.8"/><line x1="275.0" y1="479.1" x2="276.2" y2="499.7"/><line x1="276.1" y1="499.3" x2="276.3" y2="500.1" stroke-width="1"/><line x1="273.0" y1="500.1" x2="273.6" y2="501.6" stroke-width="1"/><line x1="270.0" y1="500.9" x2="270.9" y2="503.1" stroke-width="1"/><line x1="267.0" y1="501.7" x2="268.2" y2="504.6" stroke-width="1"/><line x1="264.0" y1="502.4" x2="265.5" y2="506.2" stroke-width="1"/><line x1="261.0" y1="503.2" x2="262.8" y2="507.7" stroke-width="1"/><line x1="258.0" y1="504.0" x2="260.0" y2="509.2" stroke-width="1"/><line x1="259.0" y1="506.6" x2="245.2" y2="491.7"/><line x1="245.2" y1="491.7" x2="252.5" y2="480.6"/><line x1="276.2" y1="499.7" x2="293.4" y2="511.2"/><line x1="293.0" y1="511.2" x2="293.8" y2="511.2" stroke-width="1"/><line x1="292.6" y1="514.5" x2="294.2" y2="514.5" stroke-width="1"/><line x1="292.2" y1="517.7" x2="294.6" y2="517.7" stroke-width="1"/><line x1="291.8" y1="521.0" x2="295.0" y2="521.0" stroke-width="1"/><line x1="291.4" y1="524.2" x2="295.4" y2="524.2" stroke-width="1"/><line x1="291.0" y1="527.5" x2="295.8" y2="527.5" stroke-width="1"/><line x1="290.6" y1="530.7" x2="296.2" y2="530.7" stroke-width="1"/><line x1="293.4" y1="530.7" x2="276.2" y2="538.7"/><line x1="277.0" y1="537.3" x2="263.3" y2="528.8"/><line x1="275.4" y1="540.1" x2="261.6" y2="531.6"/><line x1="293.4" y1="530.7" x2="305.8" y2="537.3"/><line x1="315.8" y1="538.1" x2="330.0" y2="533.0"/><line x1="331.6" y1="532.9" x2="330.8" y2="517.7"/><line x1="328.4" y1="533.1" x2="327.6" y2="517.9"/><polygon points="330.0,533.0 343.5,545.4 346.5,541.2" fill="#000" stroke="none"/><line x1="345.0" y1="543.3" x2="361.2" y2="539.4"/><line x1="369.2" y1="530.1" x2="370.2" y2="518.1"/><line x1="371.4" y1="517.0" x2="361.3" y2="506.1"/><line x1="369.0" y1="519.2" x2="359.0" y2="508.3"/><line x1="370.2" y1="518.1" x2="389.7" y2="513.5"/><line x1="389.7" y1="513.5" x2="388.7" y2="501.5"/><line x1="395.4" y1="493.1" x2="414.9" y2="490.6"/><line x1="413.7" y1="491.7" x2="422.6" y2="501.3"/><line x1="416.1" y1="489.5" x2="425.0" y2="499.2"/><line x1="414.9" y1="490.6" x2="420.6" y2="469.9"/><line x1="420.6" y1="469.9" x2="410.8" y2="460.1"/><line x1="420.6" y1="469.9" x2="424.7" y2="456.8"/><line x1="420.6" y1="469.9" x2="434.7" y2="467.4"/><polygon points="389.7,513.5 401.4,532.3 405.4,529.1" fill="#000" stroke="none"/><line x1="403.4" y1="530.7" x2="422.9" y2="523.8"/><line x1="403.4" y1="530.7" x2="416.0" y2="543.3"/><line x1="403.4" y1="530.7" x2="397.7" y2="546.7"/><line x1="345.0" y1="543.3" x2="345.0" y2="563.9"/><line x1="345.0" y1="563.9" x2="327.8" y2="574.3"/><line x1="327.8" y1="574.3" x2="310.6" y2="563.9"/><line x1="327.8" y1="574.3" x2="327.8" y2="594.9"/><text x="255.5" y="480.2" text-anchor="middle" stroke="none" fill="#000" font-weight="bold">N</text><text x="255.5" y="466.2" text-anchor="middle" stroke="none" fill="#000" font-weight="bold">H</text><text x="289.9" y="470.7" text-anchor="middle" stroke="none" fill="#000" font-weight="bold">O</text><text x="257.8" y="531.5" text-anchor="middle" stroke="none" fill="#000" font-weight="bold">O</text><text x="310.6" y="544.1" text-anchor="middle" stroke="none" fill="#000" font-weight="bold">N</text><text x="310.6" y="557.2" text-anchor="middle" stroke="none" fill="#000" font-weight="bold">H</text><text x="328.9" y="516.5" text-anchor="middle" stroke="none" fill="#000" font-weight="bold">O</text><text x="368.5" y="541.8" text-anchor="middle" stroke="none" fill="#000" font-weight="bold">NH</text><text x="356.4" y="507.4" text-anchor="middle" stroke="none" fill="#000" font-weight="bold">O</text><text x="388.0" y="498.2" text-anchor="middle" stroke="none" fill="#000" font-weight="bold">HN</text><text x="427.5" y="508.5" text-anchor="middle" stroke="none" fill="#000" font-weight="bold">O</text><text x="406.9" y="460.4" text-anchor="middle" stroke="none" fill="#000" font-weight="bold">F</text><text x="426.4" y="455.8" text-anchor="middle" stroke="none" fill="#000" font-weight="bold">F</text><text x="440.1" y="470.7" text-anchor="middle" stroke="none" fill="#000" font-weight="bold">F</text></g>
<text x="49.7" y="638.6" font-family="Liberation Sans, sans-serif" font-weight="bold" font-size="23.3">Comound 6</text>
<text x="276.9" y="639.4" font-family="Liberation Sans, sans-serif" font-weight="bold" font-size="23.2">Compound 8</text>
<g stroke-linecap="butt"><line x1="476" y1="532" x2="499" y2="532" stroke="#c00000" stroke-width="4.6"/><line x1="497.4" y1="519.3" x2="497.4" y2="545.3" stroke="#c00000" stroke-width="4.7"/></g>
<g font-family="Liberation Sans, sans-serif"><text x="514.8" y="545.3" font-size="30">3CL</text><text x="571.2" y="532.2" font-size="18.8">pro</text><text x="600.9" y="545.3" font-size="30">s</text></g>
<g fill="#70ad47"><rect x="526.6" y="427" width="14.4" height="2.9"/><polygon points="526.6,427 530.2,427 534.6,435.2 531,436"/></g><circle cx="534.4" cy="441.2" r="6.6" fill="none" stroke="#70ad47" stroke-width="3.8"/><polygon fill="#5b9bd5" points="609.5,465.3 615.6,465.3 618.2,474.5 620.6,465.3 626.2,465.3 620.4,479.8 620.4,487.6 616.1,487.6 616.1,479.8"/><g font-family="Liberation Sans, sans-serif" font-weight="bold"><text x="656.5" y="545.3" font-size="29" fill="#ffc000">β</text><text x="617.9" y="601.3" font-size="28.5" fill="#ed7d31">α</text></g>
<g stroke-width="2.6"><line x1="540.4" y1="455.4" x2="570.6" y2="507.4" stroke="#a9d18e"/><line x1="610.4" y1="485.3" x2="590.5" y2="511.2" stroke="#9dc3e6"/><line x1="617.9" y1="532" x2="654.8" y2="535.8" stroke="#ffd966"/><line x1="596.5" y1="549.6" x2="620.8" y2="582.5" stroke="#f4b183"/></g>
</svg>
</body></html>
